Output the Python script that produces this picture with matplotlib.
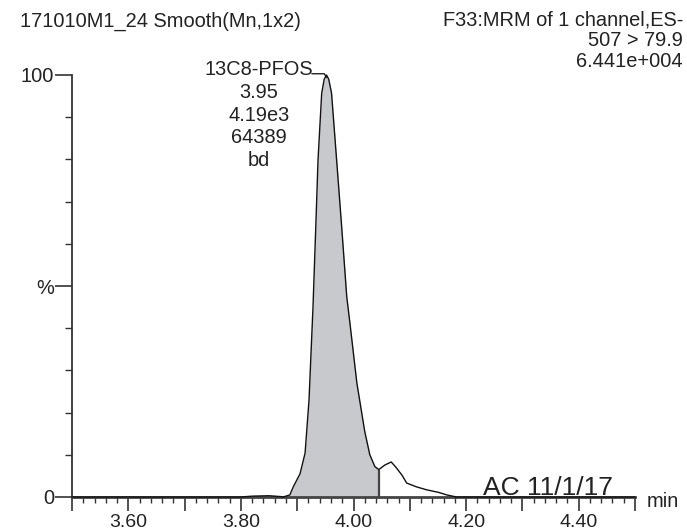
import matplotlib
matplotlib.use('Agg')
import matplotlib.pyplot as plt
import numpy as np

# Arial-like font
plt.rcParams['font.family'] = ['Liberation Sans', 'DejaVu Sans']

# chromatogram trace: retention time (min) and relative intensity (%)
rt = [3.50, 3.80, 3.82, 3.85, 3.87, 3.875, 3.887, 3.893, 3.905, 3.914, 3.921,
      3.928, 3.933, 3.937, 3.9435, 3.948, 3.952, 3.956, 3.961, 3.970, 3.979,
      3.988, 3.994, 4.006, 4.020, 4.029, 4.038, 4.045, 4.056, 4.067, 4.075,
      4.086, 4.0945, 4.112, 4.130, 4.151, 4.1655, 4.183, 4.50]
intensity = [0, 0, 0.2, 0.3, 0.1, 0, 0.5, 2.4, 5.5, 10.4, 23,
             44.8, 64, 79.9, 95.7, 99.0, 100, 99.0, 95.7, 79.9, 64,
             47.5, 40.8, 27, 15.5, 10, 7.2, 6.5, 7.6, 8.3, 7.1,
             5.2, 3.3, 2.4, 1.7, 1.1, 0.5, 0, 0]

# integration window
peak_start = 3.875
peak_end = 4.045

# axis ticks
xtick_major = [3.5, 3.6, 3.7, 3.8, 3.9, 4.0, 4.1, 4.2, 4.3, 4.4, 4.5]
xtick_labels = ['', '3.60', '', '3.80', '', '4.00', '', '4.20', '', '4.40', '']
xtick_minor = [3.5 + 0.02 * i for i in range(51)]
ytick_major = [0, 50, 100]
ytick_labels = ['0', '%', '100']
ytick_minor = [10, 20, 30, 40, 60, 70, 80, 90]

# texts
header_left = '171010M1_24 Smooth(Mn,1x2)'
header_right = ['F33:MRM of 1 channel,ES-', '507 > 79.9', '6.441e+004']
peak_label = ['13C8-PFOS', '3.95', '4.19e3', '64389', 'bd']
stamp = 'AC 11/1/17'

W, H = 687, 531
fig = plt.figure(figsize=(W / 100, H / 100), dpi=100)
ax = fig.add_axes([72 / W, 1 - 497 / H, 563 / W, 422 / H])

rt = np.array(rt)
intensity = np.array(intensity)

# shaded integrated area
mask = (rt >= peak_start) & (rt <= peak_end)
ax.fill_between(rt[mask], intensity[mask], color='#c8c9cc', lw=0, zorder=1)
ax.vlines(peak_end, 0, np.interp(peak_end, rt, intensity), color='#444444', lw=1.6, zorder=2)
ax.plot(rt, intensity, color='#111111', lw=1.0, zorder=3, clip_on=False)

ax.set_xlim(3.5, 4.5)
ax.set_ylim(0, 100)

ax.set_xticks(xtick_major)
ax.set_xticklabels(xtick_labels)
ax.set_xticks(xtick_minor, minor=True)
ax.set_yticks(ytick_major)
ax.set_yticklabels(ytick_labels)
ax.set_yticks(ytick_minor, minor=True)

ax.tick_params(axis='x', which='major', length=10, width=1.2, pad=2,
               labelsize=14, color='#333333', labelcolor='#222222')
ax.tick_params(axis='x', which='minor', length=4, width=1.0, color='#333333')
ax.tick_params(axis='y', which='major', length=12, width=1.2, pad=1,
               labelsize=14.4, color='#333333', labelcolor='#222222')
ax.tick_params(axis='y', which='minor', length=5, width=1.0, color='#333333')

for s in ['top', 'right']:
    ax.spines[s].set_visible(False)
ax.spines['bottom'].set_color('#444444')
ax.spines['bottom'].set_linewidth(2)
ax.spines['left'].set_color('#333333')
ax.spines['left'].set_linewidth(1.3)


def fpos(x, y):
    return x / W, 1 - y / H


# headers
fig.text(*fpos(20, 27), header_left, fontsize=14.4, color='#222222', va='baseline', ha='left')
for i, line in enumerate(header_right):
    fig.text(*fpos(683, 25 + 21 * i), line, fontsize=14.4, color='#222222',
             va='baseline', ha='right')

# peak annotation
for i, line in enumerate(peak_label):
    fig.text(*fpos(259, 75 + 22.8 * i), line, fontsize=14.4, color='#222222',
             va='baseline', ha='center')
apex = rt[np.argmax(intensity)]
ax.plot([apex - 0.0255, apex - 0.004, apex], [100.3, 100.3, 99.5],
        color='#222222', lw=1.0, clip_on=False)

# stamp and unit
fig.text(*fpos(483, 495), stamp, fontsize=19, color='#222222', va='baseline', ha='left')
fig.text(*fpos(647, 507), 'min', fontsize=14.4, color='#222222', va='baseline', ha='left')

fig.savefig('out.png', dpi=100)
